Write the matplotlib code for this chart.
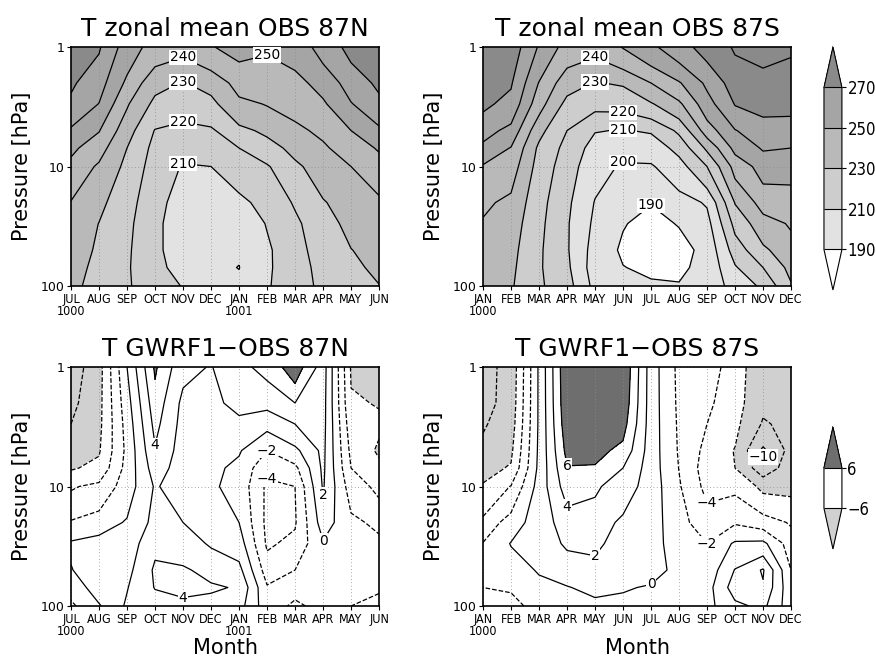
import numpy as np
import matplotlib
matplotlib.use("Agg")
import matplotlib.pyplot as plt
from matplotlib.colors import ListedColormap, BoundaryNorm
from matplotlib.ticker import FixedLocator, NullLocator

plt.rcParams["font.family"] = ["DejaVu Sans"]

pressure = [1, 2, 3, 5, 7, 10, 20, 30, 50, 70, 100]
months_n = ["JUL\n1000", "AUG", "SEP", "OCT", "NOV", "DEC", "JAN\n1001", "FEB", "MAR", "APR", "MAY", "JUN"]
months_s = ["JAN\n1000", "FEB", "MAR", "APR", "MAY", "JUN", "JUL", "AUG", "SEP", "OCT", "NOV", "DEC"]

# one row per month, one column per pressure level
t_obs_87n = [
    [275, 271.5, 268, 258.5, 252.3, 247.1, 239.5, 237, 235, 233.5, 232],
    [271, 264, 259.7, 250.5, 244, 238.5, 232.3, 229.8, 228.5, 227.5, 227],
    [255, 248, 241, 234, 230, 227.5, 224, 222.5, 221.5, 221, 221],
    [246, 233, 227.5, 219.5, 217, 215.5, 213, 212, 212, 213, 215],
    [243, 229.5, 224, 217.5, 213, 209.3, 206, 205, 205, 206, 209.5],
    [249.5, 233, 227.5, 218.5, 214, 210, 205, 203, 202, 202, 204],
    [253, 244, 237.5, 227.5, 220, 215, 207.5, 204, 201, 199.8, 202],
    [251, 245, 240.5, 232, 226, 219, 213.5, 210.5, 208.5, 208.5, 209],
    [254, 247, 243, 238, 233, 228, 221, 218, 216.5, 216, 216],
    [264, 253.5, 248.5, 242, 238.5, 235, 229.2, 226.5, 224.5, 223, 222],
    [273, 264.5, 259.4, 250, 245, 240, 235, 232.5, 229.8, 228.5, 227.5],
    [276, 272, 267.5, 258, 251, 246, 238, 235, 233, 231.5, 229.8],
]

t_obs_87s = [
    [278, 275, 272, 264, 257.5, 249, 242, 239, 236, 234, 232],
    [276, 271, 267, 257, 249.5, 245, 237.5, 235, 233, 232, 231],
    [259, 249.5, 244, 233, 228, 226, 223.5, 222.5, 221.5, 221.2, 221.5],
    [246, 234, 227, 220, 217, 215, 212, 211, 211, 212, 214],
    [243, 229.5, 223, 210.5, 206, 203, 199.5, 198, 196, 195, 197],
    [250.5, 231, 223.5, 209.5, 203, 199, 193, 190.5, 188.5, 190.3, 192],
    [258, 240, 229, 211, 204.5, 199, 190.3, 187.5, 186, 188, 191.5],
    [266, 249, 238, 222, 213, 206, 196, 190.5, 186.5, 188.5, 190.5],
    [274, 262, 256, 245, 232, 220, 201, 196.5, 193, 192.5, 195],
    [281, 275, 270.5, 259.5, 253, 243.5, 230.5, 223, 214.5, 209, 203],
    [282, 278, 273, 266, 261, 254, 244, 236, 228, 220, 212],
    [281, 276.5, 272, 267, 260, 253, 246, 241, 236.5, 233, 229],
]

dt_gwrf1_87n = [
    [-9, -8.5, -8, -7, -6.2, -4.2, -1.8, 0.3, -0.1, -1.2, -2.4],
    [-6.8, -6.6, -6.5, -6.2, -5.5, -3.5, -1.0, 0.8, 1.3, 1.0, -0.2],
    [0.0, -0.8, -1.2, -1.5, -1.3, -1.0, 0.2, 0.8, 1.4, 1.9, 2.3],
    [6.3, 5.2, 4.6, 3.8, 3.0, 2.2, 2.6, 3.6, 4.3, 4.1, 3.0],
    [2.5, 1.5, 1.3, 1.1, 1.0, 1.0, 2.0, 2.8, 4.3, 4.5, 3.5],
    [1.9, 1.5, 1.2, 0.8, 0.5, 0.3, 0.8, 1.8, 3.3, 4.3, 3.2],
    [3.5, 2.6, 1.5, 0.2, -0.5, -0.7, 0.0, 1.0, 2.6, 3.8, 2.8],
    [4.6, 2.6, 0.6, -2.0, -3.5, -4.4, -4.5, -4.3, -3.0, -1.8, -1.2],
    [7.2, 4.0, 2.0, -0.5, -2.5, -4.0, -4.2, -3.5, -2.0, -1.5, -2.3],
    [3.0, 2.8, 2.7, 2.5, 2.4, 2.2, 1.0, -0.2, -1.2, -1.4, -1.5],
    [-6.2, -5.8, -5.2, -4.5, -4.0, -3.0, -1.5, -1.2, -1.0, -1.3, -2.0],
    [-7.0, -6.1, -5.7, -6.3, -5.5, -4.5, -2.5, -1.5, -1.0, -1.8, -2.5],
]

dt_gwrf1_87s = [
    [-8.5, -8.6, -8.2, -7.5, -6.7, -5.8, -3.5, -1.9, -1.4, -2.0, -2.6],
    [-7.5, -7.3, -7.0, -6.4, -5.8, -3.9, -1.0, 0.1, -1.0, -1.8, -2.6],
    [0.3, 0.3, 0.3, 0.4, 0.5, 0.8, 1.0, 0.9, 0.2, -0.6, -1.3],
    [7.8, 7.6, 7.3, 6.6, 5.9, 5.0, 2.9, 2.3, 0.9, -0.1, -0.8],
    [7.9, 7.8, 7.5, 6.7, 5.8, 4.3, 3.0, 2.4, 1.4, 0.5, -0.5],
    [7.8, 7.4, 6.8, 5.4, 4.0, 3.0, 1.6, 1.2, 0.6, 0.1, -0.3],
    [1.0, 1.0, 1.0, 1.0, 1.0, 1.1, 1.0, 0.8, 0.4, -0.1, -0.4],
    [-2.5, -2.4, -2.3, -2.2, -2.05, -1.8, -1.4, -1.0, -0.3, -0.4, -0.6],
    [-3.0, -3.6, -4.0, -4.6, -5.0, -4.6, -3.0, -2.0, -1.3, -0.8, -0.6],
    [-5.0, -5.2, -5.5, -6.1, -6.0, -4.4, -2.2, 0.3, 2.1, 3.0, 1.5],
    [-7.5, -7.6, -8.2, -10.4, -9.2, -6.5, -3.0, 0.5, 4.2, 3.8, 2.5],
    [-7.5, -7.8, -7.5, -7.3, -7.0, -6.5, -4.2, -3.0, -2.0, -1.5, -1.2],
]

t_fill = [190, 210, 230, 250, 270]
t_lines = np.arange(180, 290, 10)
d_fill = [-6, 6]
d_lines = np.arange(-12, 13, 2)

t_cmap = ListedColormap(["#e2e2e2", "#cdcdcd", "#b9b9b9", "#a5a5a5"])
t_cmap.set_under("white")
t_cmap.set_over("#8a8a8a")
t_norm = BoundaryNorm(t_fill, t_cmap.N)

d_cmap = ListedColormap(["white"])
d_cmap.set_under("#d0d0d0")
d_cmap.set_over("#6e6e6e")
d_norm = BoundaryNorm(d_fill, d_cmap.N)


def minus(v):
    return f"{v:.0f}".replace("-", "\u2212")


def style_axes(ax, labels, title, xlabel=None):
    ax.set_yscale("log")
    ax.set_ylim(100, 1)
    ax.set_xlim(0, 11)
    ax.yaxis.set_major_locator(FixedLocator([1, 10, 100]))
    ax.yaxis.set_minor_locator(NullLocator())
    ax.set_yticklabels(["1", "10", "100"], fontsize=9)
    ax.set_xticks(range(12))
    ax.set_xticklabels(labels, fontsize=9, fontstretch="condensed", linespacing=0.95)
    ax.tick_params(direction="out", length=3, width=0.8, pad=2)
    ax.grid(True, color="0.55", linestyle=(0, (1, 3)), linewidth=0.6)
    for s in ax.spines.values():
        s.set_linewidth(1.2)
    ax.set_ylabel("Pressure [hPa]", fontsize=15, labelpad=6)
    ax.set_title(title, fontsize=18, pad=8)
    if xlabel:
        ax.set_xlabel(xlabel, fontsize=15, labelpad=0)


def put_labels(ax, cs, spots):
    # horizontal labels with a white box, placed on the nearest point of the wanted level
    levels = list(cs.levels)
    for lev, mx, mp in spots:
        if lev not in levels:
            continue
        segs = [s for s in cs.allsegs[levels.index(lev)] if len(s)]
        if not segs:
            continue
        pts = np.vstack(segs)
        disp = ax.transData.transform(pts)
        target = ax.transData.transform((mx, mp))
        i = np.argmin(((disp - target) ** 2).sum(axis=1))
        ax.text(pts[i, 0], pts[i, 1], minus(lev), fontsize=10, ha="center", va="center",
                bbox=dict(facecolor="white", edgecolor="none", pad=0.4), zorder=5)


def draw(ax, data, labels, title, spots, fill, cmap, norm, lines, xlabel=None):
    z = np.array(data).T
    x = np.arange(12)
    style_axes(ax, labels, title, xlabel)
    cf = ax.contourf(x, pressure, z, levels=fill, cmap=cmap, norm=norm, extend="both")
    cs = ax.contour(x, pressure, z, levels=lines, colors="k", linewidths=0.9)
    put_labels(ax, cs, spots)
    ax.set_xlim(0, 11)
    ax.set_ylim(100, 1)
    return cf


fig = plt.figure(figsize=(8.76, 6.58), dpi=100)
ax1 = fig.add_axes([0.0811, 0.5653, 0.3516, 0.3632])
ax2 = fig.add_axes([0.5514, 0.5653, 0.3516, 0.3632])
ax3 = fig.add_axes([0.0811, 0.0790, 0.3516, 0.3632])
ax4 = fig.add_axes([0.5514, 0.0790, 0.3516, 0.3632])

draw(ax1, t_obs_87n, months_n, "T zonal mean OBS 87N",
     [(240, 4.0, 1.21), (230, 4.0, 1.96), (220, 4.0, 4.0), (210, 4.0, 8.6), (250, 7.0, 1.15)],
     t_fill, t_cmap, t_norm, t_lines)
cf_t = draw(ax2, t_obs_87s, months_s, "T zonal mean OBS 87S",
            [(240, 4.06, 1.28), (230, 4.06, 1.96), (220, 5.0, 3.4), (210, 5.0, 4.8),
             (200, 5.0, 8.6), (190, 6.0, 21)],
            t_fill, t_cmap, t_norm, t_lines)
draw(ax3, dt_gwrf1_87n, months_n, "T GWRF1\u2212OBS 87N",
     [(4, 3.0, 4.3), (4, 4.0, 84), (-2, 7.1, 4.5), (-4, 7.1, 7.5), (2, 9.0, 14), (0, 9.0, 28)],
     d_fill, d_cmap, d_norm, d_lines, "Month")
cf_d = draw(ax4, dt_gwrf1_87s, months_s, "T GWRF1\u2212OBS 87S",
            [(6, 3.0, 6.8), (4, 3.0, 15.7), (2, 4.0, 37.5), (0, 5.96, 71),
             (-4, 8.05, 13.5), (-2, 8.1, 31.7), (-10, 10.1, 7.1)],
            d_fill, d_cmap, d_norm, d_lines, "Month")

cax1 = fig.add_axes([0.9406, 0.5593, 0.0205, 0.3693])
cb1 = fig.colorbar(cf_t, cax=cax1, extendfrac=0.25, drawedges=True, ticks=t_fill)
cax2 = fig.add_axes([0.9406, 0.1657, 0.0205, 0.1854])
cb2 = fig.colorbar(cf_d, cax=cax2, extendfrac=1.0, drawedges=True, ticks=d_fill)
cb2.set_ticklabels([minus(v) for v in d_fill])
for cb in (cb1, cb2):
    cb.outline.set_linewidth(0.8)
    cb.dividers.set_linewidth(0.8)
    cb.ax.tick_params(length=3, width=0.8, pad=1)
    for t in cb.ax.get_yticklabels():
        t.set_fontsize(12)
        t.set_fontstretch("condensed")

fig.savefig("out.png", dpi=100)
